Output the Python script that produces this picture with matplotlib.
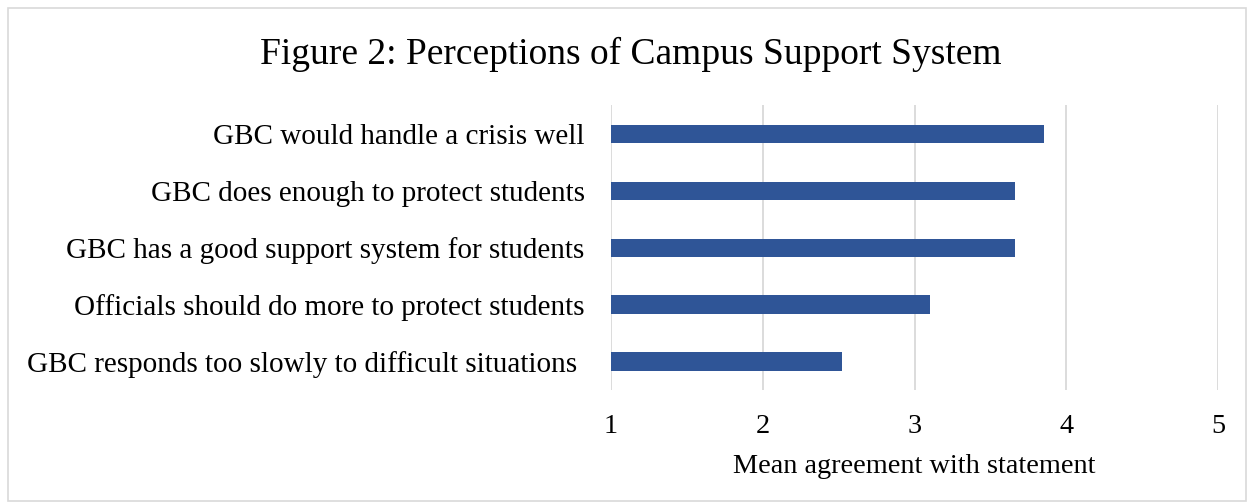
import matplotlib.pyplot as plt
from matplotlib.patches import Rectangle

statements = ["GBC would handle a crisis well",
              "GBC does enough to protect students",
              "GBC has a good support system for students",
              "Officials should do more to protect students",
              "GBC responds too slowly to difficult situations "]
means = [3.85, 3.66, 3.66, 3.10, 2.52]
ticks = [1, 2, 3, 4, 5]

plt.rcParams['font.family'] = ['Liberation Serif', 'DejaVu Serif']

fig = plt.figure(figsize=(12.52, 5.03), dpi=100)
ax = fig.add_axes([0.488, 0.2247, 0.485, 0.566])

pos = list(range(len(statements)))[::-1]
ax.barh(pos, [m - 1 for m in means], left=1, height=0.32, color='#2f5597')

ax.set_xlim(1, 5)
ax.set_ylim(-0.5, len(statements) - 0.5)
ax.set_xticks(ticks)
ax.set_xticklabels([str(t) for t in ticks], fontsize=20.3)
ax.set_yticks(pos)
ax.set_yticklabels(statements, fontsize=21)
ax.tick_params(length=0)
ax.tick_params(axis='y', pad=19)
ax.tick_params(axis='x', pad=17)
ax.xaxis.grid(True, color='#d9d9d9', linewidth=1.3)
ax.set_axisbelow(True)
for s in ax.spines.values():
    s.set_visible(False)
ax.set_xlabel("Mean agreement with statement", fontsize=20.3, labelpad=11)

fig.text(0.504, 0.892, "Figure 2: Perceptions of Campus Support System",
         ha='center', va='center', fontsize=27)

fig.patches.append(Rectangle((0.006, 0.004), 0.989, 0.98, transform=fig.transFigure,
                             fill=False, edgecolor='#d9d9d9', linewidth=1.2))

fig.savefig('out.png', dpi=100)
